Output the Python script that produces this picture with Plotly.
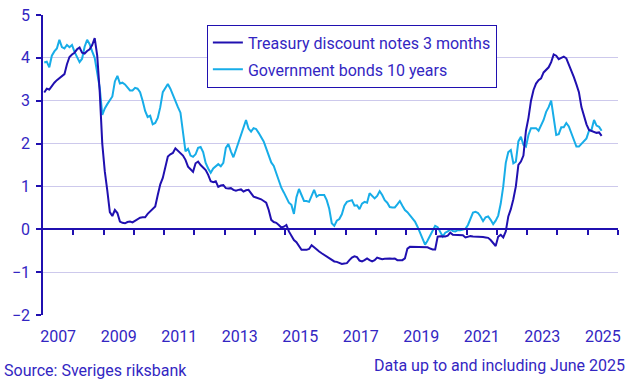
import plotly.graph_objects as go

# ---- data (monthly, Jan 2007 - Jun 2025), percent ----
years = list(range(2007, 2026))
treasury_3m = [
    # 2007
    3.19, 3.28, 3.26, 3.35, 3.42, 3.48, 3.53, 3.58, 3.62, 3.85, 4.02, 4.08,
    # 2008
    4.12, 4.20, 4.24, 4.12, 4.10, 4.16, 4.20, 4.30, 4.46, 4.05, 3.20, 2.00,
    # 2009
    1.35, 0.90, 0.40, 0.31, 0.45, 0.38, 0.18, 0.15, 0.14, 0.17, 0.18, 0.16,
    # 2010
    0.20, 0.22, 0.27, 0.28, 0.28, 0.36, 0.41, 0.48, 0.53, 0.80, 1.05, 1.20,
    # 2011
    1.46, 1.70, 1.75, 1.78, 1.89, 1.83, 1.79, 1.72, 1.62, 1.46, 1.40, 1.34,
    # 2012
    1.54, 1.58, 1.50, 1.44, 1.38, 1.27, 1.12, 1.10, 1.12, 0.99, 1.02, 1.03,
    # 2013
    0.96, 0.95, 0.96, 0.92, 0.90, 0.92, 0.93, 0.88, 0.91, 0.92, 0.85, 0.76,
    # 2014
    0.74, 0.72, 0.70, 0.66, 0.62, 0.45, 0.22, 0.17, 0.15, 0.10, 0.04, 0.06,
    # 2015
    0.10, -0.05, -0.15, -0.25, -0.30, -0.40, -0.48, -0.48, -0.48, -0.46, -0.37, -0.42,
    # 2016
    -0.48, -0.52, -0.56, -0.60, -0.63, -0.66, -0.70, -0.75, -0.76, -0.79, -0.81, -0.80,
    # 2017
    -0.79, -0.72, -0.66, -0.63, -0.65, -0.73, -0.75, -0.72, -0.68, -0.72, -0.75, -0.72,
    # 2018
    -0.66, -0.68, -0.70, -0.69, -0.68, -0.68, -0.69, -0.68, -0.72, -0.72, -0.72, -0.68,
    # 2019
    -0.45, -0.41, -0.41, -0.41, -0.41, -0.41, -0.41, -0.41, -0.42, -0.45, -0.47, -0.47,
    # 2020
    -0.17, -0.16, -0.16, -0.17, -0.15, -0.08, -0.13, -0.13, -0.13, -0.13, -0.14, -0.19,
    # 2021
    -0.18, -0.16, -0.17, -0.17, -0.17, -0.18, -0.18, -0.19, -0.20, -0.25, -0.33, -0.39,
    # 2022
    -0.17, -0.13, -0.19, -0.05, 0.30, 0.47, 0.70, 1.00, 1.50, 1.58, 1.72, 2.30,
    # 2023
    2.60, 3.00, 3.25, 3.40, 3.48, 3.52, 3.66, 3.72, 3.78, 3.90, 4.08, 4.05,
    # 2024
    3.97, 4.00, 4.03, 3.99, 3.85, 3.70, 3.55, 3.38, 3.20, 2.85, 2.62, 2.45,
    # 2025
    2.32, 2.30, 2.27, 2.25, 2.26, 2.18,
]
gov_bonds_10y = [
    # 2007
    3.89, 3.91, 3.78, 4.05, 4.15, 4.22, 4.42, 4.25, 4.22, 4.30, 4.25, 4.30,
    # 2008
    4.14, 4.02, 3.90, 3.98, 4.26, 4.42, 4.32, 4.15, 4.00, 3.65, 3.30, 2.67,
    # 2009
    2.82, 2.92, 3.00, 3.10, 3.45, 3.58, 3.40, 3.42, 3.38, 3.30, 3.24, 3.24,
    # 2010
    3.30, 3.28, 3.20, 3.00, 2.76, 2.62, 2.65, 2.45, 2.48, 2.60, 2.85, 3.20,
    # 2011
    3.28, 3.39, 3.28, 3.12, 2.98, 2.85, 2.72, 2.20, 1.82, 1.88, 1.72, 1.69,
    # 2012
    1.75, 1.90, 1.92, 1.80, 1.55, 1.42, 1.32, 1.42, 1.48, 1.52, 1.47, 1.55,
    # 2013
    1.90, 1.99, 1.82, 1.68, 1.85, 2.02, 2.18, 2.35, 2.55, 2.35, 2.28, 2.36,
    # 2014
    2.34, 2.25, 2.15, 2.05, 1.89, 1.70, 1.56, 1.48, 1.30, 1.15, 0.97, 0.86,
    # 2015
    0.72, 0.62, 0.57, 0.36, 0.75, 0.94, 0.80, 0.66, 0.66, 0.64, 0.78, 0.92,
    # 2016
    0.76, 0.80, 0.80, 0.80, 0.68, 0.48, 0.14, 0.08, 0.20, 0.24, 0.35, 0.55,
    # 2017
    0.64, 0.66, 0.68, 0.55, 0.56, 0.47, 0.60, 0.64, 0.62, 0.84, 0.78, 0.72,
    # 2018
    0.78, 0.89, 0.80, 0.68, 0.62, 0.52, 0.51, 0.51, 0.58, 0.66, 0.55, 0.45,
    # 2019
    0.40, 0.33, 0.25, 0.18, 0.06, -0.08, -0.20, -0.36, -0.26, -0.15, -0.03, 0.08,
    # 2020
    0.05, -0.05, -0.17, -0.08, -0.05, 0.00, -0.04, -0.05, -0.02, -0.02, 0.00, 0.01,
    # 2021
    0.10, 0.25, 0.39, 0.41, 0.38, 0.30, 0.19, 0.28, 0.30, 0.22, 0.12, 0.20,
    # 2022
    0.32, 0.60, 1.00, 1.55, 1.80, 1.85, 1.54, 1.58, 2.05, 2.16, 1.97, 1.93,
    # 2023
    2.20, 2.36, 2.36, 2.36, 2.30, 2.42, 2.55, 2.74, 2.85, 3.00, 2.60, 2.20,
    # 2024
    2.22, 2.38, 2.38, 2.48, 2.40, 2.25, 2.12, 1.93, 1.93, 2.00, 2.06, 2.12,
    # 2025
    2.30, 2.32, 2.55, 2.42, 2.39, 2.30,
]
tick_labels = [str(y) for y in range(2007, 2026, 2)]
series_names = ["Treasury discount notes 3 months", "Government bonds 10 years"]

# month positions as fractional years (mid-month)
months_x = [y + (m - 0.5) / 12 for y in years for m in range(1, 13)][: len(treasury_3m)]

DARK = "#2010b0"
LIGHT = "#17ade8"
TEXT = "#3326c2"
GRID = "#cdc9ec"
FONT = "Roboto"
FS = 16

fig = go.Figure()
fig.add_trace(go.Scatter(
    x=months_x, y=treasury_3m, mode="lines", name=series_names[0],
    line=dict(color=DARK, width=2), xaxis="x2", yaxis="y", legendgroup="a",
))
fig.add_trace(go.Scatter(
    x=months_x, y=gov_bonds_10y, mode="lines", name=series_names[1],
    line=dict(color=LIGHT, width=2), xaxis="x", yaxis="y", legendgroup="b",
))

x_lo, x_hi = years[0], years[-1] + 1
fig.update_layout(
    width=644, height=379,
    margin=dict(l=43, r=26, t=15, b=64, autoexpand=False),
    paper_bgcolor="white", plot_bgcolor="white",
    font=dict(family=FONT, size=FS, color=TEXT),
    showlegend=True,
    legend=dict(
        x=0.285, y=0.968, xanchor="left", yanchor="top",
        bordercolor=DARK, borderwidth=1, bgcolor="white",
        font=dict(family=FONT, size=FS, color=TEXT),
        tracegroupgap=3, itemwidth=30,
    ),
    xaxis=dict(
        range=[x_lo, x_hi], tickmode="array",
        tickvals=[int(t) + 0.5 for t in tick_labels], ticktext=tick_labels,
        showgrid=False, zeroline=False, showline=False,
        ticks="", ticklabelstandoff=10, automargin=False,
        tickfont=dict(family=FONT, size=FS, color=TEXT),
        fixedrange=True,
    ),
    xaxis2=dict(
        range=[x_lo, x_hi], overlaying="x", anchor="free", position=2 / 7,
        tickmode="array", tickvals=list(range(x_lo + 1, x_hi + 1)),
        showticklabels=False, showgrid=False, zeroline=False,
        showline=True, linecolor=DARK, linewidth=1.5, automargin=False,
        ticks="outside", ticklen=5, tickcolor=DARK, tickwidth=1.5,
    ),
    yaxis=dict(
        range=[-2, 5], dtick=1, tick0=0,
        showgrid=True, gridcolor=GRID, gridwidth=1,
        zeroline=False, showline=True, linecolor=DARK, linewidth=1.5,
        ticks="outside", ticklen=5, tickcolor=DARK, tickwidth=1.5,
        ticklabelstandoff=3, automargin=False,
        tickfont=dict(family=FONT, size=FS, color=TEXT),
    ),
    annotations=[
        dict(text="Source: Sveriges riksbank", xref="paper", yref="paper",
             x=-41 / 575, y=-55 / 300, xanchor="left", yanchor="middle",
             showarrow=False, font=dict(family=FONT, size=FS, color=TEXT)),
        dict(text="Data up to and including June 2025", xref="paper", yref="paper",
             x=1 + 9 / 575, y=-50 / 300, xanchor="right", yanchor="middle",
             showarrow=False, font=dict(family=FONT, size=FS, color=TEXT)),
    ],
)

fig.write_html(
    "out.html",
    config={"displayModeBar": False},
    post_script="document.body.style.margin='0';",
)
